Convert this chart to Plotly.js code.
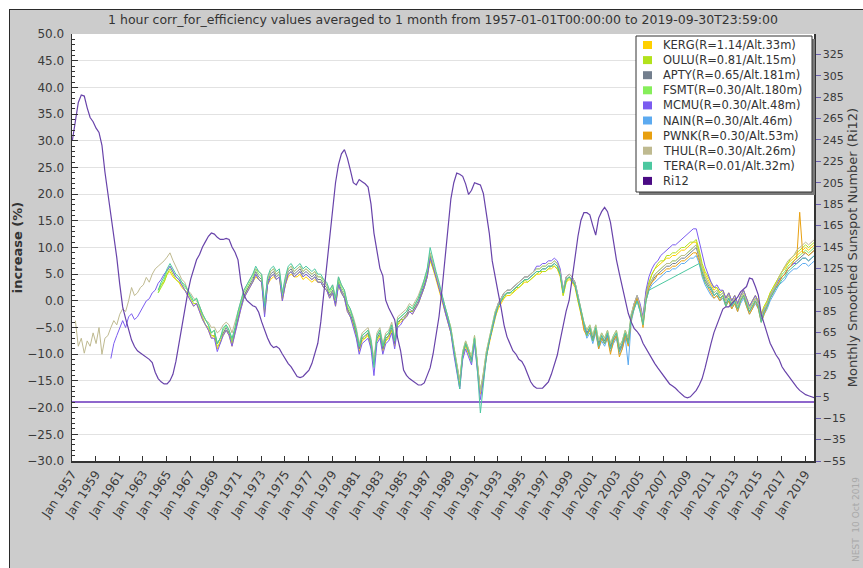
<!DOCTYPE html>
<html>
<head>
<meta charset="utf-8">
<script src="https://cdn.plot.ly/plotly-3.0.1.min.js"></script>
<style>
html,body{margin:0;padding:0;background:#ffffff;width:863px;height:568px;overflow:hidden;}
#chart{position:absolute;left:9px;top:9px;width:853px;height:558px;border-top:1px solid #2a2a2a;border-left:1px solid #2a2a2a;}
</style>
</head>
<body>
<div id="chart"></div>
<script>
// ---------------- DATA ----------------
const chartTitle = '1 hour corr_for_efficiency values averaged to 1 month from 1957-01-01T00:00:00 to 2019-09-30T23:59:00';
const leftAxisTitle = 'increase (%)';
const rightAxisTitle = 'Monthly Smoothed Sunspot Number (Ri12)';
const stamp = 'NEST  10 Oct 2019';

const stationNames = ['KERG(R=1.14/Alt.33m)','OULU(R=0.81/Alt.15m)','APTY(R=0.65/Alt.181m)','FSMT(R=0.30/Alt.180m)','MCMU(R=0.30/Alt.48m)','NAIN(R=0.30/Alt.46m)','PWNK(R=0.30/Alt.53m)','THUL(R=0.30/Alt.26m)','TERA(R=0.01/Alt.32m)'];
const ri12Name = 'Ri12';

// first quarter of each quarterly series [year, quarter(1-4)]
const kergStart = [1964,2], ouluStart = [1964,2], aptyStart = [1969,1], fsmtStart = [1964,2];
const mcmuStart = [1960,2], nainStart = [2000,1], pwnkStart = [2000,1], thulStart = [1957,2];
const teraStart = [1964,2], ri12Start = [1957,1];

const kerg = [2.0,3.0,3.5, 5.0,5.5,4.5,4.0, 3.5,2.5,2.0,1.0, 0.0,-1.0,-0.5,-2.0, -3.5,-4.5,-5.5,-7.0, -6.5,-9.0,-7.5,-6.5, -5.5,-6.5,-8.5,-6.0, -3.5,-1.5,0.5,1.5, 2.5,3.5,4.5,4.0, 3.5,-2.5,3.0,4.0, 4.5,4.0,4.5,0.0, 3.0,4.5,5.0,4.5, 4.5,5.0,4.0,4.5, 4.0,3.5,4.0,3.5, 3.5,2.5,2.0,0.5, 1.5,-1.0,3.0,1.5, 0.5,-2.0,-3.0,-4.5, -6.5,-9.5,-7.5,-7.0, -6.5,-8.5,-12.0,-7.5, -6.5,-9.5,-7.5,-7.0, -5.5,-8.5,-4.5,-4.0, -3.5,-3.0,-2.0,-2.5, -1.5,-0.5,1.0,2.5, 4.5,7.5,6.0,4.0, 2.5,0.0,-2.0,-4.0, -6.0,-9.5,-12.5,-16.0, -10.5,-8.5,-10.0,-11.5, -7.5,-12.5,-17.5,-14.5, -10.5,-8.0,-5.5,-3.0, -1.5,-0.5,0.5,1.0, 1.0,1.5,2.0,2.5, 3.0,3.5,3.5,4.0, 4.5,5.0,5.0,5.5, 5.5,6.0,6.0,6.5, 6.0,4.5,1.0,3.5, 4.0,3.5,2.5,0.0, -2.5,-5.0,-6.5,-5.5, -7.5,-5.5,-8.5,-7.0, -8.0,-6.5,-9.0,-7.5, -6.5,-9.5,-8.5,-6.5, -8.0,-3.5,-1.5,0.0, -1.0,-3.5,1.5,3.5, 5.0,6.0,6.5,7.0, 7.5,8.0,8.0,8.5, 8.5,9.0,9.5,9.5, 10.0,10.5,11.0,11.0, 9.0,6.5,5.0,4.0, 3.0,2.0,2.5,1.5, 2.0,0.5,1.5,0.0, 1.0,-0.5,1.0,2.0, 0.5,-1.0,0.0,1.0, 0.0,-2.5,-1.0,0.0, 1.5,2.5,3.5,4.5, 5.5,6.0,7.0,7.5, 8.0,8.5,9.0,9.5, 10.0,9.5,10.0,10.5];

const oulu = [1.5,2.5,3.5, 5.0,6.0,5.0,4.0, 3.5,3.0,2.0,1.5, 0.5,-0.5,-0.5,-1.5, -3.0,-4.5,-5.0,-6.5, -6.5,-8.5,-8.0,-6.0, -5.5,-6.0,-8.0,-5.5, -3.0,-1.0,0.5,2.0, 3.0,3.5,5.0,4.0, 3.5,-2.0,3.0,4.5, 5.0,4.0,4.5,0.5, 3.0,5.0,5.5,4.5, 5.0,5.5,4.5,5.0, 4.5,4.0,4.5,3.5, 3.5,2.5,2.0,1.0, 1.5,-0.5,3.0,1.5, 0.5,-1.5,-3.0,-4.0, -6.5,-9.0,-7.0,-7.0, -6.0,-8.5,-11.5,-7.0, -6.5,-9.0,-7.5,-6.5, -5.5,-8.0,-4.5,-3.5, -3.5,-2.5,-2.0,-2.0, -1.0,-0.5,1.0,2.5, 4.5,8.0,6.0,4.5, 2.5,0.5,-2.0,-3.5, -6.0,-9.0,-12.0,-15.5, -10.5,-8.0,-9.5,-11.0, -7.0,-12.0,-17.0,-14.0, -10.5,-7.5,-5.5,-3.0, -1.0,0.0,0.5,1.5, 1.5,1.5,2.5,2.5, 3.0,4.0,3.5,4.0, 4.5,5.0,5.5,5.5, 5.5,6.0,6.5,6.5, 6.0,5.0,1.0,3.5, 4.5,3.5,3.0,0.0, -2.5,-4.5,-6.5,-5.0, -7.0,-5.5,-8.0,-7.0, -7.5,-6.5,-8.5,-7.5, -6.5,-9.0,-8.5,-6.0, -7.5,-3.5,-1.0,0.5, -1.0,-3.5,1.5,3.5, 5.0,6.0,7.0,7.5, 7.5,8.5,8.5,9.0, 9.0,9.5,10.0,10.0, 10.5,11.0,11.0,11.5, 9.5,7.0,5.5,4.5, 3.5,2.5,2.5,1.5, 2.0,0.5,1.5,0.0, 1.0,-0.5,1.0,2.0, 0.5,-1.0,0.0,1.0, 0.0,-2.5,-1.0,0.0, 1.5,2.5,3.5,4.5, 5.5,6.5,7.0,8.0, 8.5,9.0,9.5,10.0, 10.5,10.0,10.5,11.0];

const apty = [-6.0,-8.0,-7.0,-6.0, -5.0,-6.0,-7.5,-5.5, -3.0,-1.0,1.0,2.0, 3.0,4.0,5.5,4.5, 4.0,-1.5,3.5,5.0, 5.5,4.5,5.0,1.0, 3.5,5.5,6.0,5.0, 5.5,6.0,5.0,5.5, 5.0,4.5,5.0,4.0, 4.0,3.0,2.5,1.0, 2.0,-0.5,3.5,2.0, 1.0,-1.5,-2.5,-4.0, -6.0,-9.0,-7.0,-6.5, -6.0,-8.0,-11.5,-7.0, -6.0,-9.0,-7.0,-6.5, -5.0,-8.0,-4.0,-3.5, -3.0,-2.5,-1.5,-2.0, -1.0,0.0,1.5,3.0, 5.0,8.5,6.5,4.5, 3.0,0.5,-1.5,-3.5, -5.5,-9.0,-12.0,-15.0, -10.0,-8.0,-9.5,-11.0, -7.0,-12.0,-17.0,-14.0, -10.0,-7.5,-5.0,-2.5, -1.0,0.0,1.0,1.5, 1.5,2.0,2.5,3.0, 3.5,4.0,4.0,4.5, 5.0,5.5,5.5,6.0, 6.0,6.5,6.5,7.0, 6.5,5.0,1.5,4.0, 4.5,4.0,3.0,0.5, -2.0,-4.5,-6.0,-5.0, -7.0,-5.0,-8.0,-6.5, -7.5,-6.0,-8.5,-7.0, -6.0,-9.0,-8.0,-6.0, -7.5,-3.0,-1.0,0.5, -1.5,-4.0,0.5,2.5, 3.5,4.5,5.0,5.5, 6.0,6.5,6.5,7.0, 7.0,7.5,8.0,8.0, 8.5,9.0,9.5,10.0, 8.0,5.5,4.0,3.0, 2.0,1.0,1.5,0.5, 1.0,-0.5,0.5,-1.0, 0.0,-1.5,0.0,1.0, -0.5,-2.0,-1.0,0.0, -1.0,-3.5,-2.0,-1.0, 0.5,1.5,2.5,3.5, 4.5,5.0,6.0,6.5, 7.0,7.5,8.0,8.5, 9.0,8.5,9.0,9.5];

const fsmt = [1.5,3.0,4.0, 5.5,6.5,5.5,4.5, 4.0,3.5,2.5,2.0, 0.5,0.0,0.5,-1.0, -2.5,-3.5,-4.5,-6.0, -5.5,-8.0,-7.0,-5.5, -4.5,-5.5,-7.5,-5.0, -2.5,-0.5,1.5,2.5, 3.5,4.5,6.0,5.0, 4.5,-1.5,4.0,5.5, 6.0,5.0,5.5,1.0, 4.0,6.0,6.5,5.5, 6.0,6.5,5.5,6.0, 5.5,5.0,5.5,4.5, 4.5,3.5,3.0,1.5, 2.5,0.0,4.0,2.5, 1.5,-1.0,-2.0,-3.5, -5.5,-8.5,-6.5,-6.0, -5.5,-7.5,-11.5,-6.5, -5.5,-8.5,-6.5,-6.0, -4.5,-7.5,-3.5,-3.0, -2.5,-2.0,-1.0,-1.5, -0.5,0.5,2.0,3.5, 5.5,9.0,7.0,5.0, 3.5,1.0,-1.0,-3.0, -5.0,-8.5,-11.5,-15.0, -9.5,-7.5,-9.0,-10.5, -6.5,-11.5,-17.0,-13.5, -9.5,-7.0,-4.5,-2.0, -0.5,0.5,1.5,2.0, 2.0,2.5,3.0,3.5, 4.0,4.5,4.5,5.0, 5.5,6.0,6.0,6.5, 6.5,7.0,7.0,7.5, 7.0,5.5,2.0,4.5, 5.0,4.5,3.5,1.0, -1.5,-4.0,-5.5,-4.5, -6.5,-4.5,-7.5,-6.0, -7.0,-5.5,-8.0,-6.5, -5.5,-8.5,-7.5,-5.5, -7.0,-2.5,-0.5,1.0, -1.0,-3.5,1.0,3.0, 4.0,5.0,5.5,6.0, 6.5,7.0,7.0,7.5, 7.5,8.0,8.5,8.5, 9.0,9.5,10.0,10.5, 8.5,6.0,4.5,3.5, 2.5,1.5,2.0,1.0, 1.5,0.0,1.0,-0.5, 0.5,-1.0,0.5,1.5, 0.0,-1.5,-0.5,0.5, -0.5,-3.0,-1.5,-0.5, 1.0,2.0,3.0,4.0, 5.0,5.5,6.5,7.0, 7.5,8.0,8.5,9.0, 9.5,9.0,9.5,10.0];

const mcmu = [-10.8,-8.0,-6.5, -5.0,-3.7,-5.0,-3.0, -2.4,-3.5,-3.0,-2.0, -1.0,0.0,0.4,1.5, 2.0,3.3,4.0,5.0, 5.7,6.5,5.5,4.5, 4.0,3.0,2.0,1.0, 0.0,-1.0,-0.5,-2.0, -3.5,-4.5,-5.5,-7.0, -7.0,-9.5,-8.0,-6.5, -5.5,-6.5,-8.5,-6.0, -3.5,-1.5,0.5,1.5, 2.5,3.5,5.0,4.0, 3.5,-3.0,3.0,4.5, 5.0,4.0,4.5,0.0, 3.0,5.0,5.5,4.5, 5.0,5.5,4.5,5.0, 4.5,4.0,4.5,3.5, 3.5,2.5,2.0,0.5, 1.5,-1.0,3.0,1.5, 0.5,-2.0,-3.0,-5.0, -7.0,-10.0,-8.0,-7.5, -7.0,-9.0,-14.0,-8.0, -7.0,-10.0,-8.0,-7.5, -6.0,-9.0,-5.0,-4.5, -3.5,-3.0,-2.0,-2.5, -1.5,-0.5,1.0,2.5, 4.5,8.0,6.5,4.5, 3.0,0.5,-2.0,-4.0, -6.0,-10.0,-13.0,-16.5, -11.0,-9.0,-10.5,-12.0, -8.0,-13.0,-18.5,-15.0, -10.5,-7.5,-5.0,-2.5, -0.5,0.5,1.5,2.0, 2.0,2.5,3.0,3.5, 4.0,4.5,4.5,5.0, 5.5,6.5,6.5,7.0, 7.0,7.5,7.5,8.0, 7.5,6.0,2.0,4.5, 5.0,4.5,3.5,1.0, -2.0,-4.5,-6.0,-5.5, -7.5,-5.5,-8.5,-7.0, -8.0,-6.5,-9.0,-7.5, -6.5,-9.5,-8.5,-6.5, -8.0,-3.0,-0.5,1.0, -0.5,-3.0,2.0,4.5, 6.0,7.0,7.5,8.5, 9.0,9.5,10.0,10.5, 10.5,11.0,11.5,12.0, 12.5,13.0,13.5,13.5, 11.0,8.5,6.5,5.0, 3.5,2.5,3.0,2.0, 2.0,0.5,1.5,0.0, 1.0,-0.5,1.0,2.0, 0.5,-1.0,0.0,1.0, -0.5,-3.0,-1.5,-0.5, 1.0,2.0,3.0,4.0, 4.5,5.0,6.0,6.5, 7.0,7.0,7.5,8.0, 8.0,7.5,8.0,8.5];

const nain = [-2.5,-5.0,-7.0,-6.0, -8.0,-6.0,-9.0,-7.5, -8.5,-7.0,-9.5,-8.0, -7.0,-10.0,-9.0,-7.0, -12.0,-4.0,-1.5,0.0, -2.0,-4.5,0.0,2.0, 3.0,3.5,4.0,4.5, 5.0,5.5,5.5,6.0, 6.0,6.5,7.0,7.0, 7.5,8.0,8.0,8.5, 7.0,4.5,3.0,2.0, 1.0,0.5,1.0,0.0, 0.5,-1.0,0.0,-1.5, -0.5,-2.0,-0.5,0.5, -1.0,-2.5,-1.5,-0.5, -1.5,-4.0,-2.5,-1.5, 0.0,1.0,2.0,3.0, 3.5,4.0,5.0,5.5, 6.0,6.0,6.5,7.0, 7.0,6.5,7.0,7.5];

const pwnk = [-2.0,-5.5,-6.5,-5.5, -7.5,-5.5,-9.0,-7.0, -8.0,-7.0,-10.0,-7.5, -6.5,-10.5,-9.0,-6.5, -8.5,-3.5,-1.0,0.5, -1.5,-5.0,0.0,2.5, 3.5,4.0,5.0,5.0, 5.5,6.0,6.0,6.5, 6.5,7.0,7.5,7.5, 8.0,8.5,9.0,9.0, 7.5,5.0,3.5,2.5, 1.5,0.5,1.0,0.0, 1.0,-1.0,0.0,-1.5, -0.5,-2.0,0.0,1.0, -1.0,-2.5,-1.5,0.0, -1.5,-4.0,-2.5,-1.0, 0.5,1.5,2.5,3.5, 4.5,5.0,6.0,6.5, 7.5,8.0,16.6,9.0, 9.0,8.5,9.0,9.5];

const thul = [-3.7,-8.5,-7.0, -9.8,-7.5,-8.5,-6.0, -8.0,-5.0,-10.0,-7.0, -6.5,-5.0,-3.7,-4.5, -2.5,-1.5,-2.0,0.0, 2.5,1.0,1.5,2.5, 3.0,4.4,3.5,5.0, 6.0,6.5,7.0,7.5, 8.2,9.0,7.6,6.5, 5.2,4.0,3.5,2.0, 1.4,0.5,0.0,-1.0, -2.5,-3.7,-4.0,-5.0, -4.9,-6.0,-5.5,-4.5, -4.0,-4.5,-6.0,-4.0, -2.0,0.0,2.0,3.0, 4.0,5.0,6.0,5.5, 5.0,-0.5,4.0,5.5, 6.0,5.0,5.5,1.5, 4.0,6.0,6.5,5.5, 6.0,6.5,5.5,6.0, 5.5,5.0,5.5,4.5, 4.5,4.0,3.0,2.0, 3.0,0.5,4.5,3.0, 2.0,-0.5,-1.5,-3.0, -5.0,-8.0,-6.0,-5.5, -5.0,-7.0,-11.0,-6.0, -5.0,-8.0,-6.0,-5.5, -4.0,-7.0,-3.0,-2.5, -2.0,-1.5,-0.5,-1.0, 0.0,1.0,2.5,4.0, 6.0,9.0,7.0,5.0, 3.5,1.0,-1.0,-3.0, -5.0,-8.5,-11.5,-15.0, -9.5,-7.5,-9.0,-10.5, -6.5,-11.5,-17.0,-13.5, -9.5,-7.0,-4.5,-2.0, -0.5,0.5,1.5,2.0, 2.0,2.5,3.0,3.5, 4.0,4.5,4.5,5.0, 5.5,6.0,6.0,6.5, 6.5,7.0,7.0,7.5, 7.0,5.5,2.0,4.5, 5.0,4.5,3.5,1.0, -1.5,-4.0,-5.5,-4.5, -6.5,-4.5,-7.5,-6.0, -7.0,-5.5,-8.0,-6.5, -5.5,-8.5,-7.5,-5.5, -7.0,-2.5,-0.5,1.0, -1.0,-3.5,1.0,3.0, 4.0,5.0,5.5,6.0, 6.5,7.0,7.0,7.5, 7.5,8.0,8.5,8.5, 9.0,9.5,10.0,10.5, 8.5,6.0,4.5,3.5, 2.5,1.5,2.0,1.0, 1.5,0.0,1.0,-0.5, 0.5,-1.0,0.5,1.5, 0.0,-1.5,-0.5,0.5, -0.5,-3.0,-1.5,-0.5, 1.0,2.0,3.0,4.5, 5.5,6.5,7.5,8.0, 8.5,9.5,10.0,10.5, 11.0,10.5,11.0,11.5];

const tera = [2.0,3.5,4.5, 6.0,7.0,6.0,5.0, 4.5,3.5,3.0,2.0, 1.0,0.0,0.5,-1.0, -2.5,-3.5,-4.5,-6.0, -5.5,-8.0,-7.0,-5.0, -4.5,-5.5,-7.0,-5.0, -2.0,0.0,2.0,3.0, 4.0,5.0,6.5,5.5, 5.0,-1.0,4.5,6.0, 6.5,5.5,6.0,1.5, 4.5,6.5,7.0,6.0, 6.5,7.0,6.0,6.5, 6.0,5.5,6.0,5.0, 5.0,4.0,3.5,2.0, 3.0,0.5,4.5,3.0, 2.0,-0.5,-1.5,-3.5, -5.5,-8.5,-6.5,-6.0, -5.5,-7.5,-12.5,-6.5, -5.5,-8.5,-6.5,-6.0, -4.5,-7.5,-3.5,-3.0, -2.5,-2.0,-1.0,-1.5, -0.5,0.5,2.0,4.0, 6.0,10.0,7.5,5.5, 3.5,1.0,-1.0,-3.0, -5.5,-9.0,-12.5,-16.5, -10.0,-8.0,-9.5,-11.5, -7.0,-13.0,-21.0,-15.0, -10.5,-7.5,-5.0,-2.5, -1.0,0.0,1.0,1.5, 1.5,2.0,2.5,3.0, 3.5,4.0,4.0,4.5, 5.0,5.5,5.5,6.0, 6.0,6.5,6.5,7.0, 6.5,5.0,1.5,4.0, 4.5,4.0,3.0,0.5, -2.0,-4.5,-6.5,-5.0, -7.5,-5.0,-8.5,-6.5, -8.0,-6.0,-9.0,-7.0, -6.0,-9.5,-8.0,-6.0, -8.0,-3.0,-1.5,0.0, -2.0,-4.5,0.0,2.0, null,null,null,null, null,null,null,null, null,null,null,null, null,null,null,null, 7.0,5.0,3.5,2.5, 2.5,1.0,1.5,0.5, 1.0,-1.0,0.5,-1.0, 0.0,-1.5,0.0,1.0, -0.5,-2.0,-1.0,0.0, -1.0,-4.0,-2.0,-1.0, 0.5,1.5,2.5,3.0, 4.0,4.5,5.5,6.0, 6.5,7.0,7.5,8.0, 8.0,7.5,8.0,8.5];

const ri12 = [245,262,280,287, 286,275,266,262, 256,252,240,215, 195,178,158,135, 110,89,78,68, 58,52,48,46, 44,42,40,37, 28,22,19,17, 17,20,26,38, 55,70,88,102, 115,125,133,138, 145,150,155,158, 157,154,152,152, 153,152,145,140, 133,112,100,95, 92,90,89,84, 75,67,60,54, 51,52,50,45, 40,36,33,28, 24,23,24,27, 30,36,45,55, 75,100,126,150, 180,205,222,232, 236,228,217,205, 203,208,206,204, 201,185,158,140, 125,118,95,88, 82,77,60,48, 30,25,22,20, 18,16,16,18, 25,32,45,62, 80,105,135,162, 190,205,214,213, 211,204,194,198, 205,204,203,195, 175,158,132,115, 102,88,72,61, 55,48,45,40, 38,33,26,19, 15,13,13,13, 16,19,26,35, 44,58,72,85, 95,115,138,155, 170,177,177,175, 165,156,172,178, 182,178,168,150, 133,120,108,95, 83,75,69,66, 62,55,50,45, 40,36,32,28, 25,21,17,15, 13,10,7,5, 4,5,8,11, 16,22,32,45, 55,65,72,80, 87,89,89,92, 95,98,103,106, 108,116,115,108, 100,82,72,64, 55,49,44,40, 33,29,25,21, 18,14,11,9, 7,6,5,4];

// ---------------- STYLE ----------------
const stationColors = ['#FFD000','#B2E21C','#737F8E','#86EE5A','#7B5CF0','#5CAAF0','#E8A010','#BFBA90','#4CC8A0'];
const ri12LineColor = '#6843AA';
const ri12KeyColor = '#4A0A84';
const FONT = 'DejaVu Sans, Verdana, sans-serif';

function quarterDates(start, n) {
  const out = [];
  let y = start[0], q = start[1];
  for (let i = 0; i < n; i++) {
    const m = (q - 1) * 3 + 1;
    out.push(y + '-' + (m < 10 ? '0' + m : m) + '-15');
    q++; if (q > 4) { q = 1; y++; }
  }
  return out;
}

const stationSeries = [kerg, oulu, apty, fsmt, mcmu, nain, pwnk, thul, tera];
const stationStarts = [kergStart, ouluStart, aptyStart, fsmtStart, mcmuStart, nainStart, pwnkStart, thulStart, teraStart];

const traces = stationSeries.map((vals, i) => ({
  type: 'scatter', mode: 'lines', name: stationNames[i],
  x: quarterDates(stationStarts[i], vals.length), y: vals,
  connectgaps: true,
  line: {color: stationColors[i], width: 1},
  xaxis: 'x', yaxis: 'y', showlegend: false
}));
traces.push({
  type: 'scatter', mode: 'lines', name: ri12Name,
  x: quarterDates(ri12Start, ri12.length), y: ri12,
  line: {color: ri12LineColor, width: 1.2},
  xaxis: 'x', yaxis: 'y2', showlegend: false
});

// ---------------- custom legend (paper coordinates) ----------------
// plot area in page px: x 72..814, y 34..461
const PX0 = 72, PX1 = 814, PY0 = 34, PY1 = 461;
const px = v => (v - PX0) / (PX1 - PX0);
const py = v => (PY1 - v) / (PY1 - PY0);
const legNames = stationNames.concat([ri12Name]);
const legColors = stationColors.concat([ri12KeyColor]);
const shapes = [
  {type:'rect', xref:'paper', yref:'paper', x0:px(639), x1:px(815), y0:py(195), y1:py(39), fillcolor:'#7a7a7a', line:{width:0}, layer:'above'},
  {type:'rect', xref:'paper', yref:'paper', x0:px(636), x1:px(812), y0:py(192), y1:py(36), fillcolor:'#ffffff', line:{color:'#333333', width:1}, layer:'above'}
];
const annotations = [];
legNames.forEach((nm, i) => {
  const cy = 45 + i * 15.1;
  shapes.push({type:'rect', xref:'paper', yref:'paper', x0:px(643), x1:px(652), y0:py(cy + 4), y1:py(cy - 4), fillcolor: legColors[i], line:{width:0}, layer:'above'});
  annotations.push({xref:'paper', yref:'paper', x:px(661), y:py(cy), xanchor:'left', yanchor:'middle', text: nm, showarrow:false, font:{family:FONT, size:11.5, color:'#333333'}});
});
annotations.push({xref:'paper', yref:'paper', x:px(856), y:py(520), text: stamp, textangle:-90, showarrow:false, xanchor:'center', yanchor:'middle', font:{family:FONT, size:9, color:'#a8a8a8'}});

const layout = {
  width: 853, height: 558,
  margin: {l: 62, r: 49, t: 24, b: 107},
  paper_bgcolor: '#cccccc', plot_bgcolor: '#ffffff',
  font: {family: FONT, size: 12, color: '#3a3a3a'},
  title: {text: chartTitle, xref:'paper', x: 0.5, xanchor:'center', yref:'container', y: 1 - 10/558, yanchor:'middle', font:{family:FONT, size:12.5, color:'#333333'}},
  showlegend: false,
  xaxis: {
    type: 'date', range: ['1957-01-01', '2019-09-30'],
    tick0: '1957-01-01', dtick: 'M24', tickformat: '%b %Y', tickangle: -57,
    ticks: 'inside', ticklen: 5, tickcolor: '#333', showgrid: false,
    showline: true, linecolor: '#333', linewidth: 1.5, zeroline: false,
    tickfont: {family: FONT, size: 12, color: '#3a3a3a'}
  },
  yaxis: {
    range: [-30, 50], dtick: 5, tick0: 0, tickformat: '.1f',
    ticks: 'inside', ticklen: 6, tickcolor: '#333',
    minor: {dtick: 1, ticks: 'inside', ticklen: 3, tickcolor: '#333', showgrid: false},
    showgrid: true, gridcolor: '#e2e2e2', gridwidth: 1, zeroline: false,
    showline: true, linecolor: '#333', linewidth: 1.5,
    ticklabelstandoff: 4,
    tickfont: {family: FONT, size: 12, color: '#3a3a3a'},
    title: {text: '<b>' + leftAxisTitle + '</b>', font: {family: FONT, size: 13, color: '#333'}, standoff: 8}
  },
  yaxis2: {
    overlaying: 'y', side: 'right', range: [-55, 344], tick0: -55, dtick: 20,
    ticks: 'outside', ticklen: 5, tickcolor: '#6a5fb0', showgrid: false,
    zeroline: true, zerolinecolor: '#8e66cc', zerolinewidth: 2,
    showline: true, linecolor: '#333', linewidth: 1.5,
    tickfont: {family: FONT, size: 11, color: '#3a3a3a'},
    title: {text: rightAxisTitle, font: {family: FONT, size: 13, color: '#3a3a3a'}, standoff: 3}
  },
  shapes: shapes,
  annotations: annotations
};

Plotly.newPlot('chart', traces, layout, {displayModeBar: false, staticPlot: true});
</script>
</body>
</html>
